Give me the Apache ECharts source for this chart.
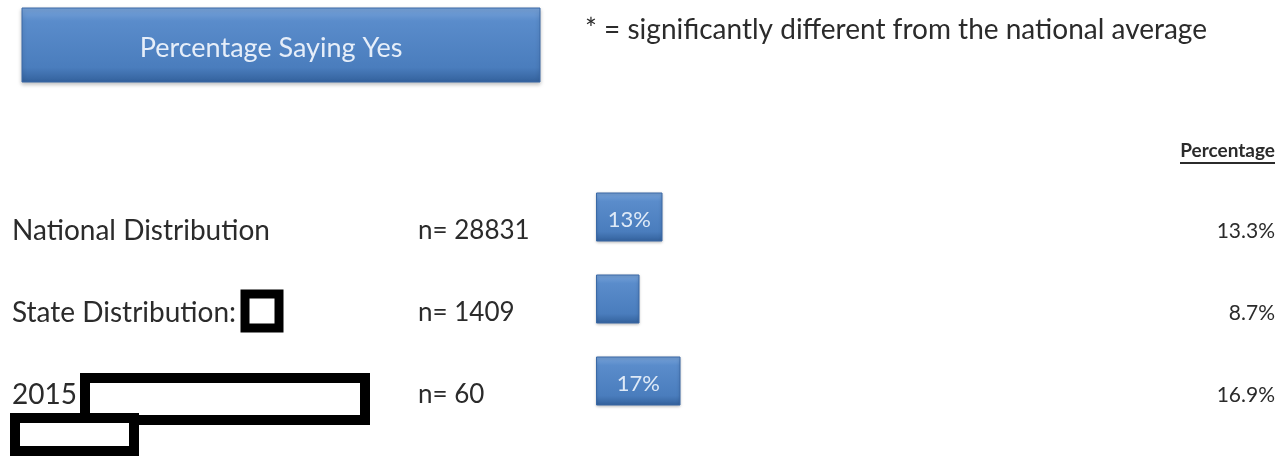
<!DOCTYPE html>
<html>
<head>
<meta charset="utf-8">
<script src="https://cdn.jsdelivr.net/npm/echarts@6/dist/echarts.min.js"></script>
<style>
  html, body { margin: 0; padding: 0; background: #fff; }
  #main { width: 1287px; height: 456px; }
</style>
</head>
<body>
<div id="main"></div>
<script>
// rows of the table
var categories = ['National Distribution', 'State Distribution:', '2015 U'];
var nValues = [28831, 1409, 60];
var percentages = [13.3, 8.7, 16.9];
var barLabels = ['13%', '', '17%'];

var FONT = 'Lato, "Open Sans", sans-serif';
var TEXT = '#2b2b2b';

var chart = echarts.init(document.getElementById('main'));

// bevelled blue fill used for the bars and the title box
function blueFill() {
  return new echarts.graphic.LinearGradient(0, 0, 0, 1, [
    { offset: 0, color: '#79a4da' },
    { offset: 0.18, color: '#5a8ccb' },
    { offset: 0.8, color: '#4a7dbd' },
    { offset: 1, color: '#33619c' }
  ]);
}

chart.setOption({
  animation: false,
  grid: [
    // bars
    { left: 596, width: 500, top: 176, height: 246 },
    // text rows (a little lower than the bars, as in the original)
    { left: 596, right: 12, top: 190, height: 246 }
  ],
  xAxis: [
    { gridIndex: 0, type: 'value', min: 0, max: 100, show: false },
    { gridIndex: 1, type: 'value', min: 0, max: 100, show: false }
  ],
  yAxis: [
    { gridIndex: 0, type: 'category', inverse: true, data: categories, show: false },
    {
      gridIndex: 1, type: 'category', inverse: true, data: categories,
      axisLine: { show: false }, axisTick: { show: false },
      axisLabel: {
        align: 'left', margin: 584,
        formatter: function (v, i) {
          return '{a|' + v + '}{b|n= ' + nValues[i] + '}';
        },
        rich: {
          a: { width: 406, fontSize: 28, fontFamily: FONT, color: TEXT },
          b: { fontSize: 26, fontFamily: FONT, color: TEXT }
        }
      }
    },
    {
      gridIndex: 1, type: 'category', inverse: true, position: 'right',
      data: percentages.map(function (p) { return p.toFixed(1) + '%'; }),
      axisLine: { show: false }, axisTick: { show: false },
      axisLabel: { align: 'right', margin: 0, fontSize: 21, fontFamily: FONT, color: TEXT }
    }
  ],
  series: [
    {
      type: 'bar', xAxisIndex: 0, yAxisIndex: 0,
      data: percentages, barWidth: 49,
      itemStyle: {
        color: blueFill(), borderColor: '#3a69a6', borderWidth: 1,
        shadowColor: 'rgba(0,0,0,0.25)', shadowBlur: 3, shadowOffsetY: 1
      },
      label: {
        show: true, position: 'inside', fontSize: 22, fontFamily: FONT,
        color: '#dfeaf7', offset: [0, 3],
        formatter: function (p) { return barLabels[p.dataIndex]; }
      }
    },
    {
      type: 'scatter', xAxisIndex: 1, yAxisIndex: 1, data: [], silent: true
    }
  ],
  graphic: [
    {
      type: 'rect', shape: { x: 22, y: 8, width: 518, height: 74 },
      style: {
        fill: blueFill(), stroke: '#3a69a6', lineWidth: 1,
        shadowColor: 'rgba(0,0,0,0.25)', shadowBlur: 4, shadowOffsetY: 2
      }
    },
    {
      type: 'text', x: 271, y: 48,
      style: {
        text: 'Percentage Saying Yes', fontSize: 27, fontFamily: FONT,
        fill: '#e6eef9', align: 'center', verticalAlign: 'middle'
      }
    },
    {
      type: 'text', x: 585, y: 30,
      style: {
        text: '* = significantly different from the national average',
        fontSize: 28, fontFamily: FONT, fill: TEXT, verticalAlign: 'middle'
      }
    },
    {
      type: 'text', x: 1275, y: 151,
      style: {
        text: 'Percentage', fontSize: 19, fontWeight: 'bold', fontFamily: FONT,
        fill: TEXT, align: 'right', verticalAlign: 'middle'
      }
    },
    {
      type: 'line', shape: { x1: 1180, y1: 163, x2: 1275, y2: 163 },
      style: { stroke: TEXT, lineWidth: 2 }
    },
    // redaction boxes, drawn over the labels
    {
      type: 'rect', z: 100, shape: { x: 245, y: 294, width: 34, height: 34 },
      style: { fill: '#fff', stroke: '#000', lineWidth: 9 }
    },
    {
      type: 'rect', z: 100, shape: { x: 85, y: 378, width: 280, height: 42 },
      style: { fill: '#fff', stroke: '#000', lineWidth: 10 }
    },
    {
      type: 'rect', z: 100, shape: { x: 15, y: 418, width: 119, height: 33 },
      style: { fill: '#fff', stroke: '#000', lineWidth: 10 }
    }
  ]
});
</script>
</body>
</html>
